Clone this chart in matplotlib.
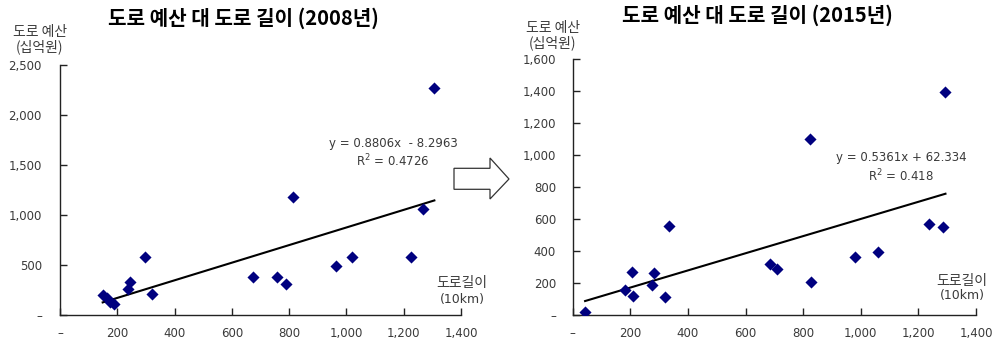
import matplotlib
matplotlib.use("Agg")
import matplotlib.pyplot as plt
import numpy as np
from matplotlib.patches import Polygon

plt.rcParams['font.family'] = ['Noto Sans CJK KR', 'DejaVu Sans']

# 2008 data: road length (10km) vs road budget (billion won)
len_2008 = [149, 163, 174, 188, 236, 243, 298, 322, 673, 758, 788, 814, 965, 1019, 1226, 1269, 1307]
bud_2008 = [194, 170, 130, 107, 254, 330, 580, 210, 380, 380, 304, 1174, 490, 580, 574, 1060, 2264]

# 2015 data
len_2015 = [43, 183, 206, 209, 276, 282, 320, 333, 686, 709, 824, 827, 980, 1059, 1236, 1287, 1294]
bud_2015 = [15, 152, 269, 119, 186, 259, 113, 556, 315, 288, 1096, 204, 359, 390, 565, 546, 1390]

titles = ["도로 예산 대 도로 길이 (2008년)", "도로 예산 대 도로 길이 (2015년)"]
eq_texts = ["y = 0.8806x  - 8.2963", "y = 0.5361x + 62.334"]
r2_texts = ["R$^2$ = 0.4726", "R$^2$ = 0.418"]
slopes = [0.8806, 0.5361]
intercepts = [-8.2963, 62.334]

x_ticks = [0, 200, 400, 600, 800, 1000, 1200, 1400]
x_ticklabels = ["–", "200", "400", "600", "800", "1,000", "1,200", "1,400"]
y_ticks_2008 = [0, 500, 1000, 1500, 2000, 2500]
y_ticklabels_2008 = ["–", "500", "1,000", "1,500", "2,000", "2,500"]
y_ticks_2015 = [0, 200, 400, 600, 800, 1000, 1200, 1400, 1600]
y_ticklabels_2015 = ["–", "200", "400", "600", "800", "1,000", "1,200", "1,400", "1,600"]

W, H = 995, 343
fig = plt.figure(figsize=(W / 100, H / 100), dpi=100)

def px(x0, y0, x1, y1):
    return [x0 / W, 1 - y1 / H, (x1 - x0) / W, (y1 - y0) / H]

ax1 = fig.add_axes(px(60, 64.7, 461, 314.7))
ax2 = fig.add_axes(px(572.7, 58.7, 976, 314.7))

gray = '#3a3a3a'
navy = '#00007f'
numfont = ['DejaVu Sans', 'Noto Sans CJK KR']

configs = [
    (ax1, len_2008, bud_2008, y_ticks_2008, y_ticklabels_2008, 2500, 13),
    (ax2, len_2015, bud_2015, y_ticks_2015, y_ticklabels_2015, 1600, 12),
]

for i, (ax, xs, ys, yt, ytl, ymax, ypad) in enumerate(configs):
    ax.scatter(xs, ys, marker='D', s=38, color=navy, zorder=3, linewidths=0)
    xr = np.array([min(xs), max(xs)])
    ax.plot(xr, slopes[i] * xr + intercepts[i], color='black', lw=1.5, zorder=2)
    ax.set_xlim(0, 1400)
    ax.set_ylim(0, ymax)
    ax.set_xticks(x_ticks)
    ax.set_xticklabels(x_ticklabels, family=numfont)
    ax.set_yticks(yt)
    ax.set_yticklabels(ytl, family=numfont)
    for s in ['top', 'right']:
        ax.spines[s].set_visible(False)
    for s in ['left', 'bottom']:
        ax.spines[s].set_color('#222222')
        ax.spines[s].set_linewidth(1.0)
    ax.tick_params(axis='x', direction='in', length=5, width=1, pad=9,
                   labelsize=8.5, labelcolor=gray, color='#222222')
    ax.tick_params(axis='y', direction='in', length=5, width=1, pad=ypad,
                   labelsize=8.5, labelcolor=gray, color='#222222')
    ax.set_facecolor('none')

# Titles
fig.text(243 / W, 1 - 18 / H, titles[0], ha='center', va='center',
         fontsize=14.5, fontweight='bold', color='black')
fig.text(757 / W, 1 - 15 / H, titles[1], ha='center', va='center',
         fontsize=14.5, fontweight='bold', color='black')

# Y labels
for (cx, y1, y2) in [(40, 32, 47), (553, 28, 43)]:
    fig.text(cx / W, 1 - y1 / H, "도로 예산", ha='center', va='center', fontsize=10, color=gray)
    fig.text(cx / W, 1 - y2 / H, "(십억원)", ha='center', va='center', fontsize=10, color=gray)

# X labels
for (cx, y1, y2) in [(462, 283, 299), (962, 281, 296)]:
    fig.text(cx / W, 1 - y1 / H, "도로길이", ha='center', va='center', fontsize=10, color=gray)
    fig.text(cx / W, 1 - y2 / H, "(10km)", ha='center', va='center', fontsize=9,
             color=gray, family=numfont)

# Equations
for (cx, y1, y2, i) in [(393, 143, 161, 0), (901, 157, 176, 1)]:
    fig.text(cx / W, 1 - y1 / H, eq_texts[i], ha='center', va='center', fontsize=8.5,
             color=gray, family=numfont)
    fig.text(cx / W, 1 - y2 / H, r2_texts[i], ha='center', va='center', fontsize=8.5,
             color=gray, family=numfont)

# Block arrow between charts
pts = [(454, 168.3), (490, 168.3), (490, 158), (509, 179), (490, 199),
       (490, 189.3), (454, 189.3)]
arrow = Polygon([(x / W, 1 - y / H) for x, y in pts], closed=True,
                transform=fig.transFigure, facecolor='white', edgecolor='#333333', lw=0.9)
fig.patches.append(arrow)

fig.savefig('out.png', dpi=100)
